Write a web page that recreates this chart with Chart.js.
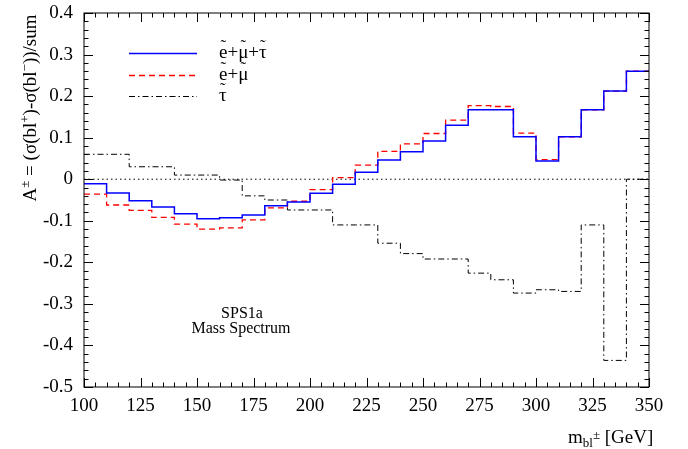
<!DOCTYPE html>
<html>
<head>
<meta charset="utf-8">
<script src="https://cdn.jsdelivr.net/npm/chart.js@4"></script>
<style>
  body { margin: 0; background: #fff; }
  #wrap { width: 688px; height: 449px; }
</style>
</head>
<body>
<div id="wrap"><canvas id="asym" width="688" height="449"></canvas></div>
<script>
// bin edges (GeV) and one value per 10 GeV bin
const binEdges = [100, 110, 120, 130, 140, 150, 160, 170, 180, 190, 200, 210, 220, 230, 240, 250, 260, 270, 280, 290, 300, 310, 320, 330, 340, 350];
const sumAll = [-0.011, -0.033, -0.052, -0.067, -0.083, -0.095, -0.093, -0.086, -0.064, -0.055, -0.034, -0.012, 0.017, 0.046, 0.066, 0.092, 0.130, 0.167, 0.167, 0.102, 0.044, 0.102, 0.167, 0.212, 0.260];
const sumEMu = [-0.036, -0.062, -0.075, -0.092, -0.108, -0.120, -0.117, -0.098, -0.069, -0.053, -0.025, 0.004, 0.034, 0.067, 0.085, 0.110, 0.142, 0.177, 0.175, 0.111, 0.047, 0.102, 0.167, 0.212, 0.260];
const tauOnly = [0.060, 0.060, 0.030, 0.030, 0.010, 0.010, -0.002, -0.040, -0.050, -0.074, -0.074, -0.110, -0.110, -0.154, -0.179, -0.192, -0.192, -0.226, -0.242, -0.274, -0.266, -0.270, -0.110, -0.436, 0.000];
// legend labels: letters carrying a tilde are marked with '~' after them
const seriesLabels = ['e~+\u03bc~+\u03c4~', 'e~+\u03bc~', '\u03c4~'];
const xTickValues = [100, 125, 150, 175, 200, 225, 250, 275, 300, 325, 350];
const yTickValues = [-0.5, -0.4, -0.3, -0.2, -0.1, 0, 0.1, 0.2, 0.3, 0.4];

const FONT = "'Liberation Serif', 'DejaVu Serif', serif";

// histogram -> step points (last value repeated at the right edge)
function toSteps(vals) {
  const pts = vals.map((v, i) => ({x: binEdges[i], y: v}));
  pts.push({x: binEdges[binEdges.length - 1], y: vals[vals.length - 1]});
  return pts;
}

// draws "e~+mu~" style text with a tilde over each marked letter
function drawTilded(ctx, label, x0, base) {
  let cx = x0;
  for (let i = 0; i < label.length; i++) {
    const ch = label[i];
    if (ch === '~') continue;
    ctx.font = '19px ' + FONT;
    const w = ctx.measureText(ch).width;
    ctx.fillText(ch, cx, base);
    if (label[i + 1] === '~') {
      ctx.font = '17px ' + FONT;
      const tw = ctx.measureText('\u02dc').width;
      ctx.fillText('\u02dc', cx + (w - tw) / 2, base - 7);
    }
    cx += w;
  }
}

// frame, inward ticks, legend, titles
const decor = {
  id: 'decor',
  afterDraw(chart) {
    const {ctx, chartArea: a, scales: {x, y}} = chart;
    ctx.save();
    ctx.strokeStyle = '#000';
    ctx.lineWidth = 1;
    ctx.strokeRect(a.left, a.top, a.right - a.left, a.bottom - a.top);

    ctx.beginPath();
    for (let v = 100; v <= 350; v += 5) {
      const px = Math.round(x.getPixelForValue(v)) + 0.5;
      const len = (v - 100) % 25 === 0 ? 9 : 4.5;
      ctx.moveTo(px, a.bottom); ctx.lineTo(px, a.bottom - len);
      ctx.moveTo(px, a.top); ctx.lineTo(px, a.top + len);
    }
    for (let k = -25; k <= 20; k++) {
      const py = Math.round(y.getPixelForValue(k * 0.02)) + 0.5;
      const len = k % 5 === 0 ? 9 : 4.5;
      ctx.moveTo(a.left, py); ctx.lineTo(a.left + len, py);
      ctx.moveTo(a.right, py); ctx.lineTo(a.right - len, py);
    }
    ctx.stroke();

    // legend
    const rows = [53, 75, 96];
    chart.data.datasets.slice(0, 3).forEach((ds, i) => {
      ctx.beginPath();
      ctx.strokeStyle = ds.borderColor;
      ctx.lineWidth = ds.borderWidth;
      ctx.setLineDash(ds.borderDash || []);
      ctx.moveTo(129, rows[i] + 0.5);
      ctx.lineTo(197, rows[i] + 0.5);
      ctx.stroke();
      ctx.setLineDash([]);
      ctx.fillStyle = '#000';
      ctx.textBaseline = 'alphabetic';
      drawTilded(ctx, ds.label, 219, rows[i] + 5);
    });

    // note
    ctx.fillStyle = '#000';
    ctx.font = '16px ' + FONT;
    ctx.textAlign = 'center';
    ctx.fillText('SPS1a', 242, 318);
    ctx.fillText('Mass Spectrum', 241, 333);
    ctx.textAlign = 'left';

    // rich text helper: pieces of [text, kind]
    function rich(pieces, size) {
      return pieces.map(([t, k]) => {
        const fs = k === 'n' ? size : Math.round(size * 0.7);
        ctx.font = fs + 'px ' + FONT;
        return {t, k, fs, w: ctx.measureText(t).width};
      });
    }

    // y title
    const yParts = rich([['A', 'n'], ['\u00b1', 'sup'], [' = (\u03c3(bl', 'n'], ['+', 'sup'], [')-\u03c3(bl', 'n'], ['\u2212', 'sup'], ['))/sum', 'n']], 19);
    const yW = yParts.reduce((s, p) => s + p.w, 0);
    ctx.save();
    ctx.translate(36, 108);
    ctx.rotate(-Math.PI / 2);
    let cy = -yW / 2;
    yParts.forEach(p => {
      ctx.font = p.fs + 'px ' + FONT;
      ctx.fillText(p.t, cy, p.k === 'sup' ? -7 : 0);
      cy += p.w;
    });
    ctx.restore();

    // x title
    const xParts = rich([['m', 'n'], ['bl', 'sub'], ['\u00b1', 'sup'], [' [GeV]', 'n']], 19);
    let cx = 568;
    xParts.forEach(p => {
      ctx.font = p.fs + 'px ' + FONT;
      const dy = p.k === 'sub' ? 4 : p.k === 'sup' ? -4 : 0;
      ctx.fillText(p.t, cx, 443 + dy);
      cx += p.w;
    });
    ctx.restore();
  }
};

new Chart(document.getElementById('asym').getContext('2d'), {
  type: 'line',
  data: {
    datasets: [
      {label: seriesLabels[0], data: toSteps(sumAll), borderColor: '#0000ff', borderWidth: 1.5, stepped: 'before', pointRadius: 0, fill: false},
      {label: seriesLabels[1], data: toSteps(sumEMu), borderColor: '#ff0000', borderWidth: 1.3, borderDash: [6, 4], stepped: 'before', pointRadius: 0, fill: false},
      {label: seriesLabels[2], data: toSteps(tauOnly), borderColor: '#000000', borderWidth: 1, borderDash: [6, 3, 1.5, 3], stepped: 'before', pointRadius: 0, fill: false},
      {label: 'zero', data: [{x: 100, y: 0}, {x: 350, y: 0}], borderColor: '#000000', borderWidth: 1, borderDash: [1.5, 3], pointRadius: 0, fill: false}
    ]
  },
  options: {
    responsive: false,
    devicePixelRatio: 1,
    animation: false,
    layout: {padding: {top: 13, right: 39, left: 0, bottom: 0}},
    plugins: {legend: {display: false}, tooltip: {enabled: false}},
    scales: {
      x: {
        type: 'linear', min: 100, max: 350,
        afterFit: s => { s.height = 62; s.paddingLeft = 0; s.paddingRight = 0; },
        afterBuildTicks: s => { s.ticks = xTickValues.map(v => ({value: v})); },
        grid: {display: false, drawTicks: false},
        border: {display: false},
        ticks: {color: '#000', font: {family: FONT, size: 19, lineHeight: 1}, padding: 10, maxRotation: 0, autoSkip: false}
      },
      y: {
        type: 'linear', min: -0.5, max: 0.4,
        afterFit: s => { s.width = 84; s.paddingTop = 0; s.paddingBottom = 0; },
        afterBuildTicks: s => { s.ticks = yTickValues.map(v => ({value: v})); },
        grid: {display: false, drawTicks: false},
        border: {display: false},
        ticks: {color: '#000', font: {family: FONT, size: 19, lineHeight: 1}, padding: 11, autoSkip: false,
          callback: v => (Math.abs(v) < 1e-9 ? '0' : v.toFixed(1))}
      }
    }
  },
  plugins: [decor]
});
</script>
</body>
</html>
